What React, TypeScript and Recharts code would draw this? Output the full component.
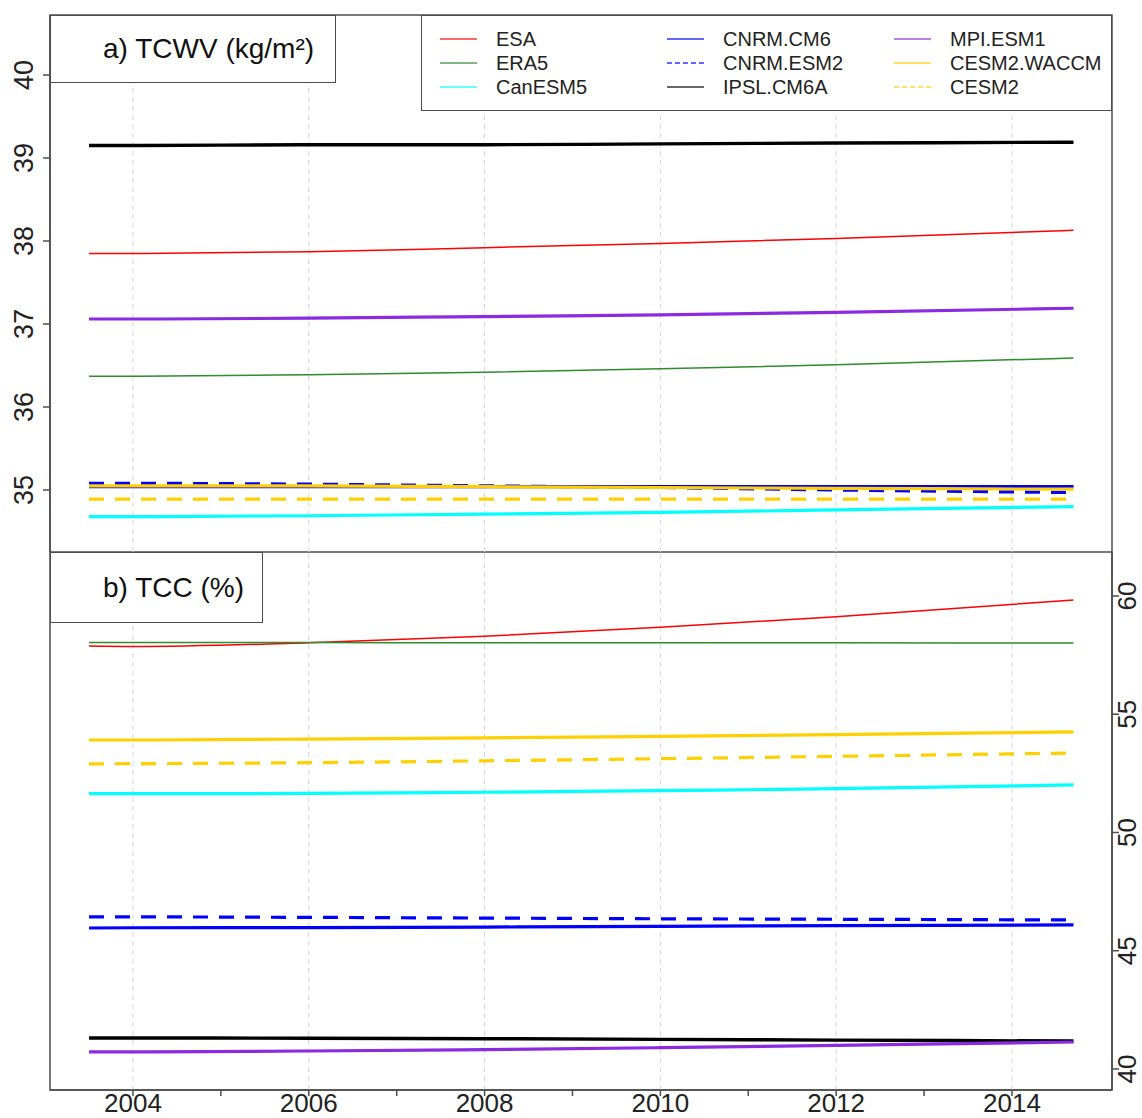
import React from 'react'
import { LineChart, Line, XAxis, YAxis, ReferenceLine, ReferenceArea } from 'recharts'

// sample positions (decimal years)
const years = [2003.5, 2004, 2006, 2008, 2010, 2012, 2014.7]

// a) TCWV (kg/m²)
const esaW = [37.85, 37.85, 37.87, 37.92, 37.97, 38.03, 38.13]
const era5W = [36.37, 36.37, 36.39, 36.42, 36.46, 36.51, 36.59]
const canW = [34.68, 34.68, 34.69, 34.71, 34.73, 34.76, 34.8]
const cm6W = [35.04, 35.04, 35.04, 35.04, 35.04, 35.04, 35.04]
const esm2W = [35.08, 35.08, 35.07, 35.05, 35.03, 35.0, 34.97]
const ipslW = [39.15, 39.15, 39.16, 39.16, 39.17, 39.18, 39.19]
const mpiW = [37.06, 37.06, 37.07, 37.09, 37.11, 37.14, 37.19]
const waccmW = [35.05, 35.05, 35.05, 35.04, 35.03, 35.02, 35.01]
const cesmW = [34.89, 34.89, 34.89, 34.89, 34.89, 34.89, 34.89]

// b) TCC (%)
const esaC = [57.88, 57.86, 58.02, 58.3, 58.68, 59.12, 59.83]
const era5C = [58.03, 58.03, 58.03, 58.02, 58.02, 58.02, 58.01]
const canC = [51.64, 51.64, 51.65, 51.7, 51.77, 51.85, 52.01]
const cm6C = [45.96, 45.97, 45.98, 46.0, 46.03, 46.06, 46.09]
const esm2C = [46.43, 46.43, 46.41, 46.38, 46.35, 46.33, 46.3]
const ipslC = [41.31, 41.31, 41.3, 41.28, 41.25, 41.22, 41.18]
const mpiC = [40.72, 40.72, 40.76, 40.82, 40.9, 41.0, 41.14]
const waccmC = [53.91, 53.91, 53.95, 54.0, 54.06, 54.14, 54.25]
const cesmC = [52.9, 52.91, 52.95, 53.03, 53.12, 53.22, 53.36]

const tickYears = [2004, 2005, 2006, 2007, 2008, 2009, 2010, 2011, 2012, 2013, 2014]
const gridYears = [2004, 2006, 2008, 2010, 2012, 2014]
const tcwvTicks = [35, 36, 37, 38, 39, 40]
const tccTicks = [40, 45, 50, 55, 60]

const xDomain = [2003.056, 2015.138]
const tcwvDomain = [34.253, 40.723]
const tccDomain = [39.11, 61.86]

const seriesNames = ['ESA', 'ERA5', 'CanESM5', 'CNRM.CM6', 'CNRM.ESM2', 'IPSL.CM6A', 'MPI.ESM1', 'CESM2.WACCM', 'CESM2']
const tcwvSeries = [esaW, era5W, canW, cm6W, esm2W, ipslW, mpiW, waccmW, cesmW]
const tccSeries = [esaC, era5C, canC, cm6C, esm2C, ipslC, mpiC, waccmC, cesmC]

const styles: Record<string, { color: string; width: number; dash?: string }> = {
  ESA: { color: '#ff0000', width: 1.5 },
  ERA5: { color: '#2e8b2e', width: 1.5 },
  CanESM5: { color: '#00ffff', width: 3.2 },
  'CNRM.CM6': { color: '#0000ff', width: 3.2 },
  'CNRM.ESM2': { color: '#0000ff', width: 3.2, dash: '15 11' },
  'IPSL.CM6A': { color: '#000000', width: 3.4 },
  'MPI.ESM1': { color: '#8a2be2', width: 3.2 },
  'CESM2.WACCM': { color: '#ffd000', width: 3.2 },
  CESM2: { color: '#ffd000', width: 3.2, dash: '15 11' },
}

const buildRows = (series: number[][]) =>
  years.map((yr, i) => {
    const row: Record<string, number> = { yr }
    seriesNames.forEach((name, k) => {
      row[name] = series[k][i]
    })
    return row
  })

const tcwvRows = buildRows(tcwvSeries)
const tccRows = buildRows(tccSeries)

const FONT = '"Liberation Sans", Arial, sans-serif'
const AXIS = '#4d4d4d'

const LeftTick = (p: any) => (
  <text
    transform={`translate(${p.x - 8},${p.y}) rotate(-90)`}
    textAnchor="middle"
    fontSize={27}
    fontFamily={FONT}
    fill="#222"
  >
    {p.payload.value}
  </text>
)

const RightTick = (p: any) => (
  <text
    transform={`translate(${p.x + 15},${p.y}) rotate(-90)`}
    textAnchor="middle"
    fontSize={26}
    fontFamily={FONT}
    fill="#222"
  >
    {p.payload.value}
  </text>
)

const BottomTick = (p: any) =>
  p.payload.value % 2 === 0 ? (
    <text x={p.x} y={p.y + 14} textAnchor="middle" fontSize={26} fontFamily={FONT} fill="#222">
      {p.payload.value}
    </text>
  ) : (
    <g />
  )

const renderLines = () =>
  seriesNames.map((name) => (
    <Line
      key={name}
      type="monotone"
      dataKey={name}
      stroke={styles[name].color}
      strokeWidth={styles[name].width}
      strokeDasharray={styles[name].dash}
      dot={false}
      isAnimationActive={false}
    />
  ))

const renderGrid = () =>
  gridYears.map((g) => (
    <ReferenceLine key={g} x={g} stroke="#d6d6d6" strokeWidth={1} strokeDasharray="5 4" />
  ))

const legendCols = [
  ['ESA', 'ERA5', 'CanESM5'],
  ['CNRM.CM6', 'CNRM.ESM2', 'IPSL.CM6A'],
  ['MPI.ESM1', 'CESM2.WACCM', 'CESM2'],
]

const Legend = () => (
  <div
    style={{
      position: 'absolute',
      left: 421,
      top: 15,
      width: 691,
      height: 96,
      boxSizing: 'border-box',
      border: `1.5px solid ${AXIS}`,
      background: '#fff',
      fontFamily: FONT,
      fontSize: 20,
      color: '#222',
    }}
  >
    {legendCols.map((col, ci) =>
      col.map((name, ri) => (
        <div
          key={name}
          style={{
            position: 'absolute',
            left: 18 + ci * 227,
            top: 11 + ri * 24,
            height: 24,
            display: 'flex',
            alignItems: 'center',
          }}
        >
          <svg width={37} height={6} style={{ marginRight: 19 }}>
            <line
              x1={0}
              y1={3}
              x2={37}
              y2={3}
              stroke={styles[name].color}
              strokeOpacity={0.6}
              strokeWidth={2}
              strokeDasharray={styles[name].dash ? '5 3' : undefined}
            />
          </svg>
          <span>{name}</span>
        </div>
      ))
    )}
  </div>
)

const TitleBox = ({ text, top, width, height }: { text: string; top: number; width: number; height: number }) => (
  <div
    style={{
      position: 'absolute',
      left: 50,
      top,
      width,
      height,
      boxSizing: 'border-box',
      border: `1.5px solid ${AXIS}`,
      background: '#fff',
      fontFamily: FONT,
      fontSize: 28,
      color: '#111',
      display: 'flex',
      alignItems: 'center',
      paddingLeft: 52,
    }}
  >
    {text}
  </div>
)

const App = () => {
  return (
    <div style={{ position: 'absolute', left: 0, top: 0, width: 1142, height: 1118, background: '#fff' }}>
      <div style={{ position: 'absolute', left: 0, top: 0 }}>
        <LineChart width={1142} height={552} data={tcwvRows} margin={{ top: 15, right: 30, bottom: 0, left: 0 }}>
          <XAxis dataKey="yr" type="number" domain={xDomain} hide height={0} allowDataOverflow />
          <YAxis
            type="number"
            domain={tcwvDomain}
            ticks={tcwvTicks}
            width={50}
            tickSize={7}
            tick={<LeftTick />}
            stroke={AXIS}
            strokeWidth={1.5}
            allowDataOverflow
          />
          {renderGrid()}
          <ReferenceArea
            x1={xDomain[0]}
            x2={xDomain[1]}
            y1={tcwvDomain[0]}
            y2={tcwvDomain[1]}
            fill="none"
            fillOpacity={0}
            stroke={AXIS}
            strokeWidth={1.5}
          />
          {renderLines()}
        </LineChart>
      </div>
      <div style={{ position: 'absolute', left: 0, top: 552 }}>
        <LineChart width={1142} height={566} data={tccRows} margin={{ top: 0, right: 0, bottom: 0, left: 50 }}>
          <XAxis
            dataKey="yr"
            type="number"
            domain={xDomain}
            ticks={tickYears}
            height={28}
            tickSize={6}
            tick={<BottomTick />}
            stroke={AXIS}
            strokeWidth={1.5}
            interval={0}
            allowDataOverflow
          />
          <YAxis
            type="number"
            orientation="right"
            domain={tccDomain}
            ticks={tccTicks}
            width={30}
            tickSize={7}
            tick={<RightTick />}
            stroke={AXIS}
            strokeWidth={1.5}
            allowDataOverflow
          />
          {renderGrid()}
          <ReferenceArea
            x1={xDomain[0]}
            x2={xDomain[1]}
            y1={tccDomain[0]}
            y2={tccDomain[1]}
            fill="none"
            fillOpacity={0}
            stroke={AXIS}
            strokeWidth={1.5}
          />
          {renderLines()}
        </LineChart>
      </div>
      <TitleBox text="a) TCWV (kg/m²)" top={15} width={286} height={68} />
      <TitleBox text="b) TCC (%)" top={552} width={213} height={71} />
      <Legend />
    </div>
  )
}

export default App
